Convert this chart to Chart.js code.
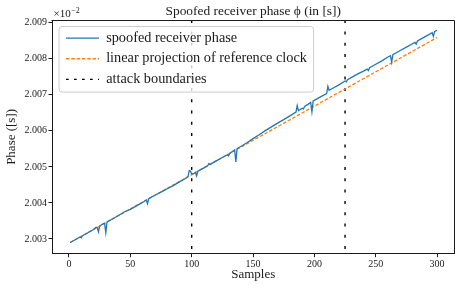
<!DOCTYPE html>
<html><head><meta charset="utf-8">
<script src="https://cdn.jsdelivr.net/npm/chart.js@4"></script>
<style>html,body{margin:0;padding:0;background:#fff}#wrap{width:455px;height:285px;position:relative}</style>
</head><body><div id="wrap"><canvas id="c" width="455" height="285"></canvas></div>
<script>
const phaseSamples = [1,5,9,10,11,15,20,22,23,24,25,28,29,30,31,35,40,45,50,55,60,63,64,65,70,75,80,85,90,95,97,98,99,100,102,103,104,105,110,113,114,115,120,125,129,130,131,135,136,137,140,145,150,155,160,165,170,175,180,185,186,187,190,191,192,195,197,198,199,205,210,211,212,215,220,225,226,227,230,235,240,243,244,245,250,255,260,262,263,264,270,275,280,282,283,284,290,296,297,298,300];
const phaseValues = [2.002900,2.002976,2.003052,2.003031,2.003090,2.003166,2.003262,2.003320,2.003319,2.003198,2.003357,2.003424,2.003433,2.003172,2.003471,2.003547,2.003642,2.003747,2.003822,2.003918,2.004013,2.004080,2.003979,2.004118,2.004213,2.004298,2.004393,2.004479,2.004584,2.004679,2.004727,2.004896,2.004885,2.004804,2.004822,2.004851,2.004750,2.004879,2.004974,2.005031,2.005090,2.005069,2.005165,2.005260,2.005336,2.005305,2.005374,2.005470,2.005139,2.005508,2.005565,2.005670,2.005785,2.005891,2.006006,2.006111,2.006216,2.006311,2.006416,2.006522,2.006701,2.006560,2.006627,2.006606,2.006675,2.006742,2.006790,2.006529,2.006828,2.006942,2.007037,2.007236,2.007125,2.007182,2.007278,2.007383,2.007362,2.007421,2.007478,2.007573,2.007658,2.007715,2.007674,2.007753,2.007849,2.007944,2.008049,2.008087,2.007906,2.008115,2.008229,2.008324,2.008419,2.008457,2.008406,2.008496,2.008610,2.008724,2.008623,2.008762,2.008790];
const projSamples = [1, 300];
const projValues = [2.0029, 2.00859];
const attackBoundaries = [100, 225];
const xTicks = [0, 50, 100, 150, 200, 250, 300];
const yTicks = [2.003, 2.004, 2.005, 2.006, 2.007, 2.008, 2.009];
const seriesLabels = ['spoofed receiver phase', 'linear projection of reference clock', 'attack boundaries'];

const FONT = "'Liberation Serif', 'DejaVu Serif', serif";
const INK = '#1a1a1a';
const boundaryDash = [3, 8.3];
const LEG_PAD = 6.3;

const toXY = (xs, ys) => xs.map((x, i) => ({x, y: ys[i]}));

const decor = {
  id: 'decor',
  afterLayout(chart) {
    const lg = chart.legend, a = chart.chartArea;
    lg.left = a.left + 7.7;
    lg.top = a.top + 4.6;
    lg.right = a.right;
    lg.bottom = a.bottom;
  },
  beforeDraw(chart) {
    const {ctx, chartArea: a, scales: {x}} = chart;
    ctx.save();
    ctx.strokeStyle = '#000';
    ctx.lineWidth = 1.4;
    ctx.setLineDash(boundaryDash);
    attackBoundaries.forEach(b => {
      const px = x.getPixelForValue(b);
      ctx.beginPath(); ctx.moveTo(px, a.top); ctx.lineTo(px, a.bottom); ctx.stroke();
    });
    ctx.setLineDash([]);
    const lg = chart.legend;
    let colW = 0;
    if (lg.columnSizes && lg.columnSizes.length) colW = lg.columnSizes[0].width;
    const x0 = lg.left - 0.7, y0 = lg.top + 1.8, x1 = lg.left + LEG_PAD + colW + 6.6, y1 = lg.top + 67.4;
    ctx.beginPath();
    if (ctx.roundRect) ctx.roundRect(x0, y0, x1 - x0, y1 - y0, 3); else ctx.rect(x0, y0, x1 - x0, y1 - y0);
    ctx.fillStyle = 'rgba(255,255,255,0.8)';
    ctx.fill();
    ctx.strokeStyle = '#cccccc';
    ctx.lineWidth = 1;
    ctx.stroke();
    ctx.restore();
  },
  afterDraw(chart) {
    const {ctx, chartArea: a} = chart;
    ctx.save();
    ctx.strokeStyle = INK;
    ctx.lineWidth = 1;
    ctx.beginPath();
    ctx.moveTo(Math.round(a.left) - 0.5, Math.round(a.top) + 0.5);
    ctx.lineTo(Math.round(a.right) - 0.5, Math.round(a.top) + 0.5);
    ctx.lineTo(Math.round(a.right) - 0.5, Math.round(a.bottom));
    ctx.stroke();
    ctx.fillStyle = INK;
    ctx.textBaseline = 'alphabetic';
    ctx.font = '11px ' + FONT;
    const bx = a.left + 1.5, by = a.top - 3;
    ctx.fillText('×10', bx, by);
    const w = ctx.measureText('×10').width;
    ctx.font = '8px ' + FONT;
    ctx.fillText('−2', bx + w + 0.5, by - 4.5);
    ctx.restore();
  }
};

new Chart(document.getElementById('c'), {
  type: 'line',
  data: {
    datasets: [
      {label: seriesLabels[0], data: toXY(phaseSamples, phaseValues), borderColor: '#1f77b4', backgroundColor: '#1f77b4', borderWidth: 1.3, pointRadius: 0, tension: 0},
      {label: seriesLabels[1], data: toXY(projSamples, projValues), borderColor: '#ff7f0e', backgroundColor: '#ff7f0e', borderWidth: 1.3, borderDash: [3.5, 1.8], pointRadius: 0},
      {label: seriesLabels[2], data: [], borderColor: '#000', backgroundColor: '#000', borderWidth: 1.4, borderDash: [2.7, 5.3], pointRadius: 0}
    ]
  },
  options: {
    responsive: false,
    devicePixelRatio: 1,
    animation: false,
    layout: {padding: {left: 0, right: 0.5, top: 0, bottom: 0}},
    plugins: {
      tooltip: {enabled: false},
      title: {
        display: true, text: 'Spoofed receiver phase ϕ (in [s])', fullSize: false,
        color: INK, font: {family: FONT, size: 13.4, weight: 'normal'},
        padding: {top: 3.8, bottom: 0.2}
      },
      legend: {
        display: true, position: 'chartArea', align: 'start',
        labels: {
          color: INK, font: {family: FONT, size: 14.3}, padding: LEG_PAD,
          usePointStyle: true, pointStyle: 'line', pointStyleWidth: 33, boxHeight: 14,
          generateLabels: (chart) => chart.data.datasets.map((ds, i) => ({
            text: ds.label, fillStyle: ds.borderColor, strokeStyle: ds.borderColor,
            lineWidth: ds.borderWidth, lineDash: ds.borderDash || [], pointStyle: 'line',
            datasetIndex: i, hidden: false, fontColor: INK
          }))
        }
      }
    },
    scales: {
      x: {
        type: 'linear', min: -13.85, max: 314.2,
        afterBuildTicks: (s) => { s.ticks = xTicks.map(v => ({value: v})); },
        afterFit: (s) => { s.height = 31.3; },
        ticks: {color: INK, font: {family: FONT, size: 10}, padding: 1, maxRotation: 0, callback: (v) => String(v)},
        grid: {drawOnChartArea: false, tickLength: 3.5, color: INK},
        border: {color: INK, width: 1},
        title: {display: true, text: 'Samples', color: INK, font: {family: FONT, size: 13}, padding: {top: 0, bottom: 2.2}}
      },
      y: {
        type: 'linear', min: 2.00259, max: 2.009075,
        afterBuildTicks: (s) => { s.ticks = yTicks.map(v => ({value: v})); },
        afterFit: (s) => { s.width = 52; },
        ticks: {color: INK, font: {family: FONT, size: 10}, padding: 1.5, callback: (v) => v.toFixed(3)},
        grid: {drawOnChartArea: false, tickLength: 3.5, color: INK},
        border: {color: INK, width: 1},
        title: {display: true, text: 'Phase ([s])', color: INK, font: {family: FONT, size: 13}, padding: {top: 4.2, bottom: 0}}
      }
    }
  },
  plugins: [decor]
});
</script>
</body></html>
